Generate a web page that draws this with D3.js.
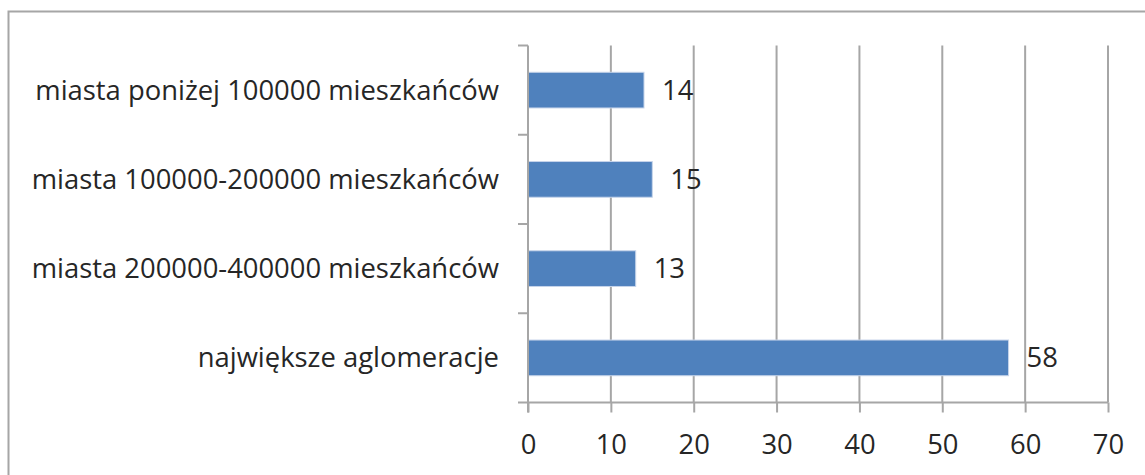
<!DOCTYPE html>
<html>
<head>
<meta charset="utf-8">
<script src="https://cdn.jsdelivr.net/npm/d3@7"></script>
<style>
  body { margin: 0; background: #fff; }
  svg text { font-family: "Open Sans", sans-serif; fill: #262626; }
</style>
</head>
<body>
<svg width="1145" height="475"></svg>
<script>
// categories, top to bottom
var categories = [
  "miasta poniżej 100000 mieszkańców",
  "miasta 100000-200000 mieszkańców",
  "miasta 200000-400000 mieszkańców",
  "największe aglomeracje"
];
var values = [14, 15, 13, 58];
var xTicks = [0, 10, 20, 30, 40, 50, 60, 70];

var svg = d3.select("svg");

// outer chart frame (extends past the right/bottom edge)
svg.append("rect")
    .attr("x", 8.5).attr("y", 11.5)
    .attr("width", 1200).attr("height", 600)
    .attr("fill", "none")
    .attr("stroke", "#a6a6a6")
    .attr("stroke-width", 2);

var pLeft = 528, pRight = 1108, pTop = 45.5, pBottom = 402.5;
var fs = "27.4px";

var x = d3.scaleLinear().domain([0, 70]).range([pLeft, pRight]);
var y = d3.scaleBand().domain(categories).range([pTop, pBottom]).paddingInner(0.6).paddingOuter(0.3);

var grid = "#a6a6a6";

// vertical gridlines
svg.append("g").selectAll("line")
  .data(xTicks.slice(1))
  .enter().append("line")
    .attr("x1", function(d) { return x(d); })
    .attr("x2", function(d) { return x(d); })
    .attr("y1", pTop).attr("y2", pBottom)
    .attr("stroke", grid).attr("stroke-width", 2);

// bars
svg.append("g").selectAll("rect")
  .data(categories)
  .enter().append("rect")
    .attr("x", x(0))
    .attr("y", function(d) { return y(d); })
    .attr("width", function(d, i) { return x(values[i]) - x(0); })
    .attr("height", y.bandwidth())
    .attr("fill", "#4f81bd")
    .attr("stroke", "#c6d4ea")
    .attr("stroke-width", 1);

// value labels
svg.append("g").selectAll("text")
  .data(categories)
  .enter().append("text")
    .attr("x", function(d, i) { return x(values[i]) + 18; })
    .attr("y", function(d) { return y(d) + y.bandwidth() / 2; })
    .attr("dy", "0.35em")
    .style("font-size", fs)
    .text(function(d, i) { return values[i]; });

// x axis
var xAxis = svg.append("g")
    .attr("transform", "translate(0," + pBottom + ")")
    .call(d3.axisBottom(x).tickValues(xTicks).tickSize(10).tickPadding(22).tickSizeOuter(0));
xAxis.select(".domain").attr("stroke", grid).attr("stroke-width", 2)
    .attr("d", "M" + (pLeft - 10) + ",0H" + pRight);
xAxis.selectAll(".tick line").attr("stroke", grid).attr("stroke-width", 2);
xAxis.selectAll(".tick text").style("font-size", fs).attr("fill", "#262626");

// y axis
var step = (pBottom - pTop) / categories.length;
var yAxis = svg.append("g");
yAxis.append("line")
    .attr("x1", pLeft).attr("x2", pLeft)
    .attr("y1", pTop).attr("y2", pBottom + 10)
    .attr("stroke", grid).attr("stroke-width", 2);
yAxis.selectAll(".ytick")
  .data(d3.range(categories.length))
  .enter().append("line")
    .attr("x1", pLeft - 10).attr("x2", pLeft)
    .attr("y1", function(d) { return pTop + d * step; })
    .attr("y2", function(d) { return pTop + d * step; })
    .attr("stroke", grid).attr("stroke-width", 2);
yAxis.selectAll("text")
  .data(categories)
  .enter().append("text")
    .attr("x", pLeft - 29)
    .attr("y", function(d) { return y(d) + y.bandwidth() / 2; })
    .attr("dy", "0.35em")
    .attr("text-anchor", "end")
    .style("font-size", fs)
    .text(function(d) { return d; });
</script>
</body>
</html>
